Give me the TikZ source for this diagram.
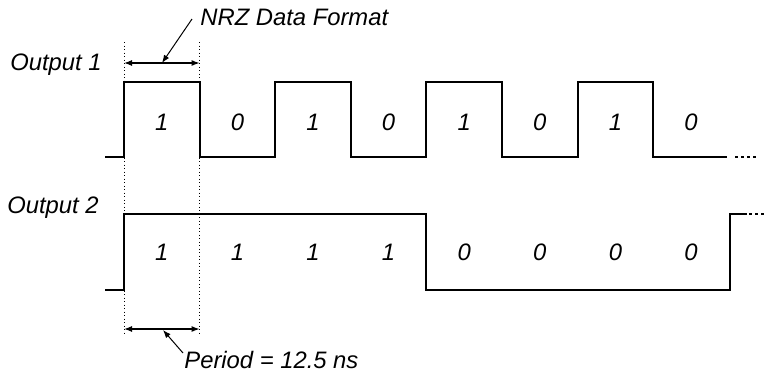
\documentclass[tikz,border=0pt]{standalone}
\usepackage{fontspec}
\setmainfont{Liberation Sans}
\usetikzlibrary{arrows.meta}

\begin{document}
\begin{tikzpicture}[x=0.5pt,y=-0.5pt,
        signal/.style={line width=1pt,line join=miter},
        guide/.style={line width=0.5pt,dash pattern=on 0.5pt off 1.25pt},
        trail/.style={line width=1.2pt,dash pattern=on 1.5pt off 1.5pt},
        dimline/.style={{Latex[length=4pt,width=3pt]}-{Latex[length=4pt,width=3pt]},line width=0.6pt},
        pointer/.style={-{Latex[length=4pt,width=3pt]},line width=0.5pt},
        label/.style={font=\fontsize{11.9}{14}\selectfont\itshape,inner sep=0pt}]

    \useasboundingbox (0,0) rectangle (767,371);

    % labels
    \node[label] (out1) at (56,65) {Output 1};
    \node[label] (out2) at (53,208) {Output 2};
    \node[label,anchor=west] (nrz) at (200,17) {NRZ Data Format};
    \node[label,anchor=west] (per) at (184,360) {Period = 12.5 ns};

    % waveforms
    \draw[signal] (105,157) -- (124,157) -- (124,82) -- (199.6,82) -- (199.6,157)
        -- (275.2,157) -- (275.2,82) -- (350.8,82) -- (350.8,157)
        -- (426.4,157) -- (426.4,82) -- (502,82) -- (502,157)
        -- (577.6,157) -- (577.6,82) -- (653.2,82) -- (653.2,157) -- (727,157);
    \draw[trail] (735,157) -- (759,157);

    \draw[signal] (105,290) -- (124,290) -- (124,214) -- (426.4,214) -- (426.4,290)
        -- (729.5,290) -- (729.5,214) -- (747,214);
    \draw[trail] (749,214) -- (767,214);

    % bit values
    \foreach \b [count=\i from 0] in {1,0,1,0,1,0,1,0}
        \node[label] (top\i) at (161.8+75.6*\i,122) {\b};
    \foreach \b [count=\i from 0] in {1,1,1,1,0,0,0,0}
        \node[label] (bot\i) at (161.8+75.6*\i,252) {\b};

    % one period
    \draw[guide] (124,42) -- (124,334);
    \draw[guide] (199.6,42) -- (199.6,334);

    \coordinate (topL) at (124,63);
    \coordinate (topR) at (199.6,63);
    \coordinate (topmid) at (162,63);
    \coordinate (botL) at (124,329);
    \coordinate (botR) at (199.6,329);
    \coordinate (botmid) at (163,330);
    \coordinate (nrzfoot) at (192,19);
    \coordinate (perfoot) at (183,353);

    \draw[dimline] (topL) -- (topR);
    \draw[dimline] (botL) -- (botR);
    \draw[pointer] (nrzfoot) -- (topmid);
    \draw[pointer] (perfoot) -- (botmid);

\end{tikzpicture}
\end{document}
